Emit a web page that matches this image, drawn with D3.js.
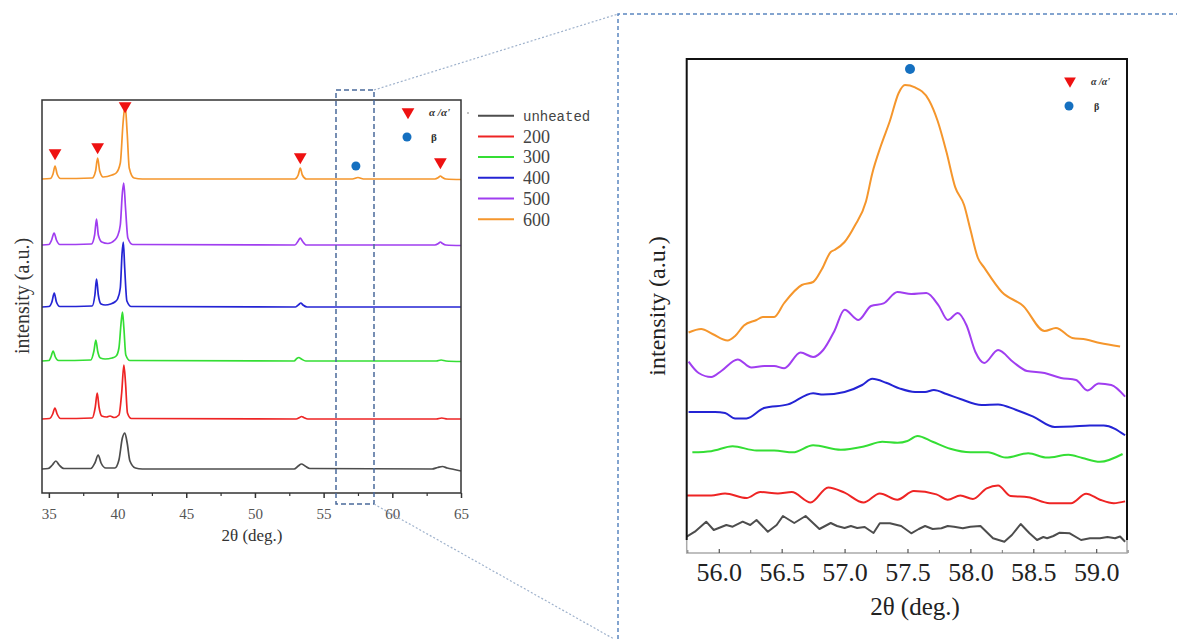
<!DOCTYPE html>
<html>
<head>
<meta charset="utf-8">
<script src="https://cdn.jsdelivr.net/npm/d3@7"></script>
<style>
  body { margin: 0; background: #fff; }
  svg { display: block; }
</style>
</head>
<body>
<script>
// ---- data: left overview (2θ, intensity a.u., stacked) ----
var seriesNames = ["unheated", "200", "300", "400", "500", "600"];
var seriesColors = ["#4d4d4d", "#ee2424", "#34de34", "#2424d4", "#a03ef0", "#f5962c"];

var unheatedWide = [[34.5,24],[34.95,24.5],[35.25,28],[35.51,32],[35.75,28],[36.1,24.5],[38.05,24.5],[38.35,30],[38.59,38],[38.8,30],[39.15,25],[39.8,25],[40.1,33],[40.35,55],[40.53,60],[40.7,50],[40.9,32],[41.3,25],[41.8,24],[52.85,24],[53.15,27],[53.39,29],[53.65,27],[54.0,24.5],[62.9,24],[63.3,25.5],[63.65,26.5],[64.0,25],[64.5,23.5],[65,22]];
var t200Wide = [[34.5,74],[35.05,74.5],[35.28,79],[35.44,85],[35.6,79],[35.85,74.5],[38.15,75],[38.38,86],[38.52,100],[38.65,86],[38.85,77],[39.2,76],[39.45,77],[39.75,75.5],[40.1,78],[40.3,100],[40.46,128],[40.58,110],[40.72,80],[41.0,74.5],[53.0,74],[53.25,75.5],[53.39,76.5],[53.55,75.5],[53.85,74],[63.2,74],[63.6,75],[64.0,74],[65,74]];
var t300Wide = [[34.5,132],[35.0,132.5],[35.15,136],[35.31,142],[35.47,136],[35.7,132.5],[38.05,133],[38.28,142],[38.42,153],[38.55,142],[38.75,135],[39.1,134],[39.6,135],[39.9,137],[40.1,145],[40.27,172],[40.36,181],[40.46,165],[40.6,138],[40.9,132.5],[52.85,132],[53.05,134.5],[53.2,135.5],[53.38,134],[53.7,132],[63.2,132],[63.55,133],[63.9,132],[65,131.5]];
var t400Wide = [[34.5,186],[35.0,186.5],[35.22,191],[35.39,200],[35.55,191],[35.8,186.5],[38.15,187],[38.35,198],[38.47,214],[38.6,198],[38.8,189],[39.1,188],[39.5,189],[39.8,191],[40.0,194],[40.2,205],[40.33,240],[40.42,251],[40.52,225],[40.68,192],[41.0,186.5],[52.95,186],[53.2,188.5],[53.34,190],[53.5,188],[53.8,186],[65,186]];
var t500Wide = [[34.5,248],[35.0,248.5],[35.2,253],[35.38,260],[35.55,253],[35.8,248.5],[38.1,249],[38.33,258],[38.47,274],[38.6,258],[38.85,251],[39.3,249.5],[39.8,253],[40.0,257],[40.2,268],[40.35,300],[40.45,310],[40.58,285],[40.75,255],[41.1,248.5],[52.9,248],[53.15,252],[53.3,255],[53.45,252],[53.75,248],[63.1,248],[63.35,249.5],[63.5,251],[63.65,249.5],[63.9,248],[65,247.5]];
var t600Wide = [[34.5,314],[35.1,314.5],[35.3,319],[35.45,327],[35.6,319],[35.85,314.5],[38.15,315],[38.4,322],[38.55,335],[38.7,322],[38.95,316],[39.6,318],[39.9,320],[40.2,330],[40.4,370],[40.55,388],[40.7,360],[40.85,325],[41.2,315],[41.8,314],[52.9,314],[53.15,318],[53.3,325],[53.45,318],[53.75,314],[57.1,314],[57.5,315.5],[57.9,314],[63.1,314],[63.35,315.5],[63.5,317],[63.65,315.5],[63.9,314],[65,313.5]];

var alphaMarksWide = [[35.45,340],[38.55,346],[40.55,387],[53.3,336],[63.5,331]];
var betaMarksWide = [[57.35,327]];
var wideTicks = [35, 40, 45, 50, 55, 60, 65];
var wideMinor = [37.5, 42.5, 47.5, 52.5, 57.5, 62.5];

// ---- data: right zoom (56–59°) ----
var unheatedZoom = [[55.745,16.3],[55.81,21.3],[55.9,31.3],[55.96,23],[56.06,28],[56.11,26.3],[56.19,31.3],[56.25,28],[56.3,33],[56.39,21.3],[56.46,28],[56.51,37],[56.6,30],[56.69,37],[56.8,24],[56.89,30],[56.94,27],[57.0,25],[57.05,27],[57.1,25],[57.16,26],[57.23,20],[57.28,29.7],[57.36,29.7],[57.45,27],[57.53,19.7],[57.59,24],[57.64,27],[57.7,24],[57.77,24.7],[57.82,27],[57.87,26.3],[57.94,24.7],[58.0,26.3],[58.08,27],[58.18,14.7],[58.27,11.3],[58.33,18],[58.4,29],[58.47,19.7],[58.53,13],[58.58,16],[58.61,14.7],[58.66,17],[58.71,20.3],[58.79,19.7],[58.88,13],[58.95,14.7],[59.03,14.7],[59.09,16],[59.15,14.7],[59.19,16.5],[59.23,11.3]];
var t200Zoom = [[55.745,57.5],[55.94,57.5],[56.05,59.6],[56.22,55],[56.33,61],[56.47,59.6],[56.58,61],[56.73,50.5],[56.87,65.6],[57.0,60.3],[57.15,50.5],[57.28,59.6],[57.42,53.3],[57.55,62],[57.73,58.6],[57.82,53.3],[57.92,57.5],[58.02,54],[58.13,64.6],[58.22,67.4],[58.32,57],[58.46,55.8],[58.63,49.8],[58.8,49.8],[58.92,59.3],[59.03,53.3],[59.14,49.8],[59.23,51.6]];
var t300Zoom = [[55.79,100.7],[55.94,101.8],[56.11,106.7],[56.3,102.5],[56.44,102.5],[56.59,100.7],[56.75,107.7],[56.97,103.2],[57.16,106.7],[57.3,111.2],[57.42,110.2],[57.5,112],[57.58,117],[57.7,111.2],[57.84,104.2],[58.0,100.7],[58.14,100.7],[58.28,95.4],[58.46,99.7],[58.61,95.4],[58.78,98.3],[58.89,95],[59.03,91.2],[59.21,99]];
var t400Zoom = [[55.76,141],[55.97,141],[56.05,140],[56.13,134.5],[56.22,134.5],[56.36,145],[56.55,148.6],[56.75,159.8],[56.83,158.4],[57.0,161],[57.14,168],[57.22,174.2],[57.33,170.3],[57.44,164.4],[57.56,161],[57.64,161],[57.71,163],[57.81,159],[57.92,154],[58.09,148],[58.22,148.6],[58.36,143.3],[58.5,136.3],[58.67,126],[58.81,126.4],[58.95,127.5],[59.06,127.5],[59.23,117.7]];
var t500Zoom = [[55.76,191.4],[55.84,180],[55.94,176],[56.02,182],[56.15,193.5],[56.26,185.4],[56.36,187],[56.44,187],[56.52,184.7],[56.65,200.5],[56.75,196],[56.83,203],[56.92,222.3],[57.0,243.3],[57.11,233],[57.21,247],[57.31,249.6],[57.42,261],[57.53,259],[57.65,260],[57.75,247],[57.82,233],[57.9,240],[57.97,227.5],[58.04,201],[58.11,190],[58.22,203],[58.34,191],[58.45,182],[58.59,180],[58.72,175],[58.84,173],[58.93,162.6],[59.02,169.6],[59.12,168],[59.23,156.3]];
var t600Zoom = [[55.76,220.5],[55.86,224],[55.95,219],[56.07,212.5],[56.13,217],[56.2,227.5],[56.3,233],[56.35,236],[56.44,236],[56.52,250],[56.66,268],[56.75,271],[56.82,284],[56.89,301],[56.92,303],[57.0,311],[57.08,327],[57.17,351.5],[57.22,379.5],[57.29,407.7],[57.36,432],[57.43,460],[57.48,468],[57.56,465.6],[57.67,453],[57.74,432],[57.81,401],[57.88,365.6],[57.95,348],[58.0,323.5],[58.06,295],[58.11,285.4],[58.25,261],[58.42,247],[58.59,222],[58.68,225],[58.81,215],[58.92,213.5],[59.03,210],[59.19,206.5]];

var betaMarkZoom = [[57.52,484]];
var zoomTicks = [56.0, 56.5, 57.0, 57.5, 58.0, 58.5, 59.0];
var zoomMinor = [55.75, 56.25, 56.75, 57.25, 57.75, 58.25, 58.75, 59.25];

var wideData = [unheatedWide, t200Wide, t300Wide, t400Wide, t500Wide, t600Wide];
var zoomData = [unheatedZoom, t200Zoom, t300Zoom, t400Zoom, t500Zoom, t600Zoom];

var w = 1177, h = 639;
var serif = "'Liberation Serif', 'Times New Roman', serif";
var mono = "'Liberation Mono', monospace";

var svg = d3.select("body").append("svg")
    .attr("width", w)
    .attr("height", h)
    .style("font-family", serif);

svg.append("rect").attr("width", w).attr("height", h).attr("fill", "#fff");

// ===== left panel =====
var xL = d3.scaleLinear().domain([34.5, 65]).range([42, 461]);
var yL = d3.scaleLinear().domain([0, 393]).range([493, 100]);

var left = svg.append("g").attr("class", "left");

var lineL = d3.line()
    .x(function(d) { return xL(d[0]); })
    .y(function(d) { return yL(d[1]); })
    .curve(d3.curveMonotoneX);

left.selectAll(".wide")
    .data(wideData)
    .enter().append("path")
    .attr("class", "wide")
    .attr("d", lineL)
    .attr("fill", "none")
    .attr("stroke", function(d, i) { return seriesColors[i]; })
    .attr("stroke-width", 1.7)
    .attr("stroke-linejoin", "round");

left.append("rect")
    .attr("x", 42).attr("y", 100)
    .attr("width", 419).attr("height", 393)
    .attr("fill", "none")
    .attr("stroke", "#333")
    .attr("stroke-width", 1.5);

var axL = left.append("g")
    .attr("transform", "translate(0,493)")
    .call(d3.axisBottom(xL).tickValues(wideTicks).tickSize(5).tickPadding(10).tickFormat(d3.format("d")));
axL.select(".domain").remove();
axL.selectAll("line").attr("stroke", "#333").attr("stroke-width", 1.5);
axL.selectAll("text").style("font-family", serif).style("font-size", "15px").attr("fill", "#555");

var axLm = left.append("g")
    .attr("transform", "translate(0,493)")
    .call(d3.axisBottom(xL).tickValues(wideMinor).tickSize(3).tickFormat(""));
axLm.select(".domain").remove();
axLm.selectAll("line").attr("stroke", "#333").attr("stroke-width", 1.2);

left.append("text")
    .text("2θ (deg.)")
    .attr("x", 252).attr("y", 541)
    .attr("text-anchor", "middle")
    .style("font-size", "17px").attr("fill", "#333");

left.append("text")
    .text("intensity (a.u.)")
    .attr("transform", "translate(28.5,296) rotate(-90)")
    .attr("text-anchor", "middle")
    .style("font-size", "20px").attr("fill", "#333");

var tri = d3.symbol().type(d3.symbolTriangle).size(70);

left.selectAll(".amark")
    .data(alphaMarksWide)
    .enter().append("path")
    .attr("class", "amark")
    .attr("d", tri)
    .attr("transform", function(d) { return "translate(" + xL(d[0]) + "," + yL(d[1]) + ") rotate(180)"; })
    .attr("fill", "#ee1111");

left.selectAll(".bmark")
    .data(betaMarksWide)
    .enter().append("circle")
    .attr("cx", function(d) { return xL(d[0]); })
    .attr("cy", function(d) { return yL(d[1]); })
    .attr("r", 4.5)
    .attr("fill", "#1570c0");

// phase key inside left panel
left.append("path").attr("d", tri)
    .attr("transform", "translate(408,112) rotate(180)")
    .attr("fill", "#ee1111");
left.append("text").text("α /α'")
    .attr("x", 429).attr("y", 116)
    .style("font-size", "11px")
    .attr("font-weight", "bold").attr("font-style", "italic").attr("fill", "#333");
left.append("circle").attr("cx", 407).attr("cy", 137).attr("r", 4.5).attr("fill", "#1570c0");
left.append("text").text("β")
    .attr("x", 431).attr("y", 141)
    .style("font-size", "11px")
    .attr("font-weight", "bold").attr("fill", "#333");
left.append("circle").attr("cx", 468).attr("cy", 113).attr("r", 0.8).attr("fill", "#777");

// series legend
var leg = svg.append("g").attr("class", "legend");
var legRows = leg.selectAll(".row")
    .data(seriesNames)
    .enter().append("g")
    .attr("transform", function(d, i) { return "translate(0," + (115.7 + i * 20.7) + ")"; });

legRows.append("line")
    .attr("x1", 478).attr("x2", 514)
    .attr("stroke", function(d, i) { return seriesColors[i]; })
    .attr("stroke-width", 2);

legRows.append("text")
    .text(function(d) { return d; })
    .attr("x", 523).attr("dy", "0.35em")
    .style("font-family", function(d, i) { return i === 0 ? mono : serif; })
    .style("font-size", function(d, i) { return i === 0 ? "14px" : "18px"; })
    .attr("fill", "#444");

// zoom guide lines
svg.append("rect")
    .attr("x", 336).attr("y", 90)
    .attr("width", 38).attr("height", 414)
    .attr("fill", "none")
    .attr("stroke", "#4a6a9a")
    .attr("stroke-width", 1.5)
    .attr("stroke-dasharray", "5,3");

svg.append("line")
    .attr("x1", 374).attr("y1", 90).attr("x2", 618).attr("y2", 14)
    .attr("stroke", "#9fb2cc").attr("stroke-width", 1.2).attr("stroke-dasharray", "2,2");
svg.append("line")
    .attr("x1", 374).attr("y1", 504).attr("x2", 614).attr("y2", 639)
    .attr("stroke", "#9fb2cc").attr("stroke-width", 1.2).attr("stroke-dasharray", "2,2");

svg.append("path")
    .attr("d", "M618,639 L618,14 L1177,14")
    .attr("fill", "none")
    .attr("stroke", "#5b86c0").attr("stroke-width", 1.5).attr("stroke-dasharray", "4,3");

// ===== right panel =====
var xR = d3.scaleLinear().domain([55.745, 59.245]).range([686.7, 1127]);
var yR = d3.scaleLinear().domain([0, 494]).range([553, 59]);

var right = svg.append("g").attr("class", "right");

right.selectAll(".zoomline")
    .data(zoomData)
    .enter().append("path")
    .attr("class", "zoomline")
    .attr("d", function(d, i) {
        return d3.line()
            .x(function(p) { return xR(p[0]); })
            .y(function(p) { return yR(p[1]); })
            .curve(i === 0 ? d3.curveLinear : d3.curveMonotoneX)(d);
    })
    .attr("fill", "none")
    .attr("stroke", function(d, i) { return seriesColors[i]; })
    .attr("stroke-width", 2)
    .attr("stroke-linejoin", "round");

right.append("path")
    .attr("d", "M686.7,540 L686.7,59 L1127,59 L1127,540")
    .attr("fill", "none").attr("stroke", "#111").attr("stroke-width", 2);

right.append("path")
    .attr("d", "M686.7,540 L686.7,553 L1127,553 L1127,540")
    .attr("fill", "none").attr("stroke", "#aaa").attr("stroke-width", 1.5);

var axR = right.append("g")
    .attr("transform", "translate(0,553)")
    .call(d3.axisBottom(xR).tickValues(zoomTicks).tickSizeInner(-4).tickSizeOuter(0).tickPadding(10).tickFormat(d3.format(".1f")));
axR.select(".domain").remove();
axR.selectAll("line").attr("stroke", "#555").attr("stroke-width", 1.2);
axR.selectAll("text").style("font-family", serif).style("font-size", "26px").attr("fill", "#222");

var axRm = right.append("g")
    .attr("transform", "translate(0,553)")
    .call(d3.axisBottom(xR).tickValues(zoomMinor).tickSizeInner(-3).tickSizeOuter(0).tickFormat(""));
axRm.select(".domain").remove();
axRm.selectAll("line").attr("stroke", "#777").attr("stroke-width", 1);

right.append("text")
    .text("2θ (deg.)")
    .attr("x", 915).attr("y", 615)
    .attr("text-anchor", "middle")
    .style("font-size", "25px").attr("fill", "#222");

right.append("text")
    .text("intensity (a.u.)")
    .attr("transform", "translate(665,306) rotate(-90)")
    .attr("text-anchor", "middle")
    .style("font-size", "24px").attr("fill", "#222");

right.selectAll(".bmarkz")
    .data(betaMarkZoom)
    .enter().append("circle")
    .attr("cx", function(d) { return xR(d[0]); })
    .attr("cy", function(d) { return yR(d[1]); })
    .attr("r", 5)
    .attr("fill", "#1570c0");

right.append("path").attr("d", d3.symbol().type(d3.symbolTriangle).size(60))
    .attr("transform", "translate(1070,81) rotate(180)")
    .attr("fill", "#ee1111");
right.append("text").text("α /α'")
    .attr("x", 1091).attr("y", 84.5)
    .style("font-size", "10px")
    .attr("font-weight", "bold").attr("font-style", "italic").attr("fill", "#333");
right.append("circle").attr("cx", 1069).attr("cy", 106).attr("r", 4.5).attr("fill", "#1570c0");
right.append("text").text("β")
    .attr("x", 1094).attr("y", 110)
    .style("font-size", "10px")
    .attr("font-weight", "bold").attr("fill", "#333");
</script>
</body>
</html>
